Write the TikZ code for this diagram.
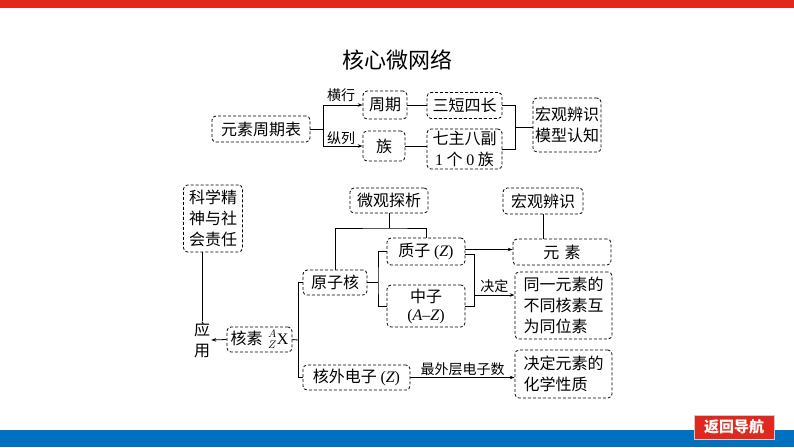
\documentclass[tikz,border=0pt]{standalone}
\usepackage{fontspec}
\setmainfont{Liberation Serif}
\newfontfamily\cjk{Noto Sans CJK SC}
\usetikzlibrary{arrows.meta}
\newcommand\lt[1]{{\rmfamily #1}}
\newcommand\li[1]{{\rmfamily\itshape #1}}
\definecolor{topred}{RGB}{224,40,30}
\definecolor{botblue}{RGB}{0,112,192}
\begin{document}
\begin{tikzpicture}[x=1pt,y=-1pt,
  box/.style={draw, dash pattern=on 3pt off 2pt, rounded corners=4pt, inner sep=0pt,
    align=center, line width=0.8pt, font=\cjk\fontsize{16}{21}\selectfont},
  lbl/.style={inner sep=1.5pt, font=\cjk\fontsize{14}{16}\selectfont},
  plain/.style={inner sep=1pt, align=center, font=\cjk\fontsize{16}{21}\selectfont},
  ln/.style={line width=0.8pt},
  arr/.style={line width=0.8pt, -{Stealth[length=5pt,width=3.5pt]}}]
\useasboundingbox (0,0) rectangle (794,447);
\fill[white] (0,0) rectangle (794,447);
% bars
\fill[topred] (0,0) rectangle (794,8);
\fill[botblue] (0,430) rectangle (794,447);
\node[draw=gray!40, line width=0.8pt, fill=topred, minimum width=80pt, minimum height=24pt, inner sep=0pt,
  text=white, font=\cjk\bfseries\fontsize{15}{17}\selectfont] (nav) at (734,427) {返回导航};
% title
\node[inner sep=0pt, font=\cjk\fontsize{22}{24}\selectfont] (title) at (397,60) {核心微网络};
% top section
\node[box, minimum width=98pt, minimum height=26pt] (zqb) at (261,129) {元素周期表};
\node[box, minimum width=44pt, minimum height=28pt] (zq) at (385,105) {周期};
\node[box, minimum width=75pt, minimum height=26pt] (sd) at (464.5,105.5) {三短四长};
\node[box, minimum width=42pt, minimum height=30pt] (zu) at (384,146) {族};
\node[box, minimum width=75pt, minimum height=40pt] (qz) at (464.5,149) {七主八副\\\lt{1} 个 \lt{0} 族};
\node[box, minimum width=68pt, minimum height=54pt] (hg) at (567,125) {宏观辨识\\模型认知};
\coordinate (b1) at (323,129);
\draw[ln] (zqb.east) -- (b1);
\draw[arr] (b1) |- (zq.west);
\draw[arr] (b1) |- (zu.west);
\node[lbl] (hx) at (341,95) {横行};
\node[lbl] (zl) at (341,138) {纵列};
\draw[ln] (zq.east) -- (zq.east -| sd.west);
\draw[ln] (zu.east) -- (zu.east -| qz.west);
\coordinate (b2) at (515,127);
\draw[ln] (sd.east) -| (b2);
\draw[ln] (qz.east) -| (b2);
\draw[ln] (b2) -- (b2 -| hg.west);
% bottom section
\node[box, minimum width=59pt, minimum height=67pt] (kx) at (213,218.5) {科学精\\神与社\\会责任};
\node[plain] (yy) at (202,340) {应\\用};
\node[box, minimum width=65pt, minimum height=25pt] (hs) at (259.5,339.5) {核素\,\,\lt{$^{A}_{Z}$X}};
\node[box, minimum width=64pt, minimum height=25pt] (yzh) at (335,282.5) {原子核};
\node[box, minimum width=78pt, minimum height=25pt] (wg) at (389,200.5) {微观探析};
\node[box, minimum width=78pt, minimum height=27pt] (zz) at (426,251.5) {质子 \lt{(}\li{Z}\lt{)}};
\node[box, minimum width=78pt, minimum height=42pt] (zhz) at (426,306) {中子\\[-3pt]\lt{(}\li{A}\lt{–}\li{Z}\lt{)}};
\node[box, minimum width=107pt, minimum height=25pt] (hw) at (356.5,377.5) {核外电子 \lt{(}\li{Z}\lt{)}};
\node[box, minimum width=80pt, minimum height=26pt] (hgb) at (543,201) {宏观辨识};
\node[box, minimum width=98pt, minimum height=26pt] (ys) at (562,252) {元\,\,素};
\node[box, align=left, minimum width=97pt, minimum height=67pt] (ty) at (563.5,305.5) {同一元素的\\不同核素互\\为同位素};
\node[box, align=left, minimum width=97pt, minimum height=48pt] (jd) at (563.5,374) {决定元素的\\化学性质};
% connectors
\draw[ln] (yy.north |- kx.south) -- (yy.north);
\draw[arr] (hs.west) -- (yy.east);
\coordinate (b3) at (298,340);
\draw[ln] (hs.east) -- (b3);
\draw[ln] (b3) |- (yzh.west);
\draw[ln] (b3) |- (hw.west);
\coordinate (b4) at (389,228);
\draw[ln] (wg.south) -- (b4);
\draw[ln] (yzh.north) |- (b4) -| (zz.north);
\coordinate (b5) at (378,282.5);
\draw[ln] (yzh.east) -- (b5);
\draw[ln] (zz.west) -| (b5) |- (zhz.west);
\draw[arr] ([yshift=2pt]zz.east) -- ([yshift=2pt]zz.east -| ys.west);
\coordinate (b6) at (474,295);
\draw[ln] ([yshift=-3pt]zz.east) -| (zhz.east -| b6) -- (zhz.east);
\draw[arr] (b6) -- (b6 -| ty.west) node[lbl, midway, above] (jdl) {决定};
\draw[ln] (hgb.south) -- (hgb.south |- ys.north);
\draw[arr] (hw.east) -- (hw.east -| jd.west) node[lbl, midway, above] (zwc) {最外层电子数};
\end{tikzpicture}
\end{document}
